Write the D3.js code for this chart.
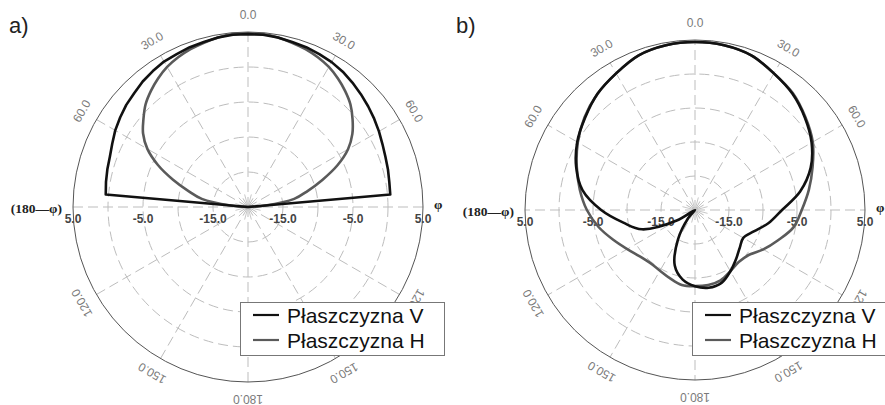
<!DOCTYPE html>
<html>
<head>
<meta charset="utf-8">
<script src="https://cdn.jsdelivr.net/npm/d3@7"></script>
<style>
  html, body { margin: 0; padding: 0; background: #fff; }
  svg { display: block; }
</style>
</head>
<body>
<svg id="chart" width="885" height="405"></svg>
<script>
// ---------------- DATA ----------------
// Panel a) angles (deg, clockwise from 0 at top), values in dB
const anglesA = [-90,-85,-80,-75,-70,-65,-60,-55,-50,-45,-40,-35,-30,-25,-20,-15,-10,-5,0,5,10,15,20,25,30,35,40,45,50,55,60,65,70,75,80,85,90];
const vA = [-20,0.4,0.6,0.8,1.0,1.4,1.9,2.3,2.7,3.0,3.4,3.7,4.0,4.1,4.3,4.4,4.6,4.7,4.7,4.7,4.6,4.4,4.3,4.1,3.9,3.6,3.2,2.8,2.4,2.0,1.6,1.2,0.9,0.7,0.5,0.4,-20];
const hA = [-20,-17.5,-13.3,-11.2,-8.6,-5.8,-3.4,-1.7,-0.5,0.7,1.6,2.4,3.1,3.6,4.0,4.3,4.6,4.8,4.8,4.8,4.6,4.3,4.0,3.6,3.1,2.4,1.6,0.7,-0.5,-1.8,-3.5,-5.9,-8.7,-11.2,-13.3,-17.5,-20];

// Panel b) angles (deg), closed pattern
const anglesB = [-180,-170,-160,-150,-140,-130,-120,-110,-100,-90,-80,-70,-60,-50,-40,-30,-20,-10,0,10,20,30,40,50,60,70,80,90,100,110,120,130,140,150,160,170];
const vB = [-8.8,-9.6,-11.3,-15.0,-18.5,-21,-16.9,-11.7,-9.3,-6.2,-3.2,-1.4,0.0,1.1,2.3,3.2,4.2,4.6,4.7,4.6,4.2,3.2,2.3,1.1,-0.2,-1.9,-4.3,-7.2,-9.0,-10.8,-11.8,-11.4,-10.6,-9.6,-8.6,-8.4];
const hB = [-8.8,-8.8,-9.3,-9.7,-9.8,-9.4,-8.5,-7.2,-5.6,-4.1,-2.8,-1.5,-0.1,1.2,2.3,3.2,4.2,4.6,4.7,4.6,4.2,3.2,2.4,1.2,0.0,-1.6,-3.0,-4.3,-5.3,-7.0,-8.4,-9.7,-10.0,-9.6,-9.0,-8.8];

// Axis ticks
const radialTicks = [-15, -10, -5, 0, 5];
const radialLabels = [5, -5, -15];
const angleLabels = [0, 30, 60, -30, -60, 120, 150, 180, -120, -150];
const seriesNames = ["Płaszczyzna V", "Płaszczyzna H"];
const panelNames = ["a)", "b)"];

// ---------------- DRAW ----------------
const svg = d3.select("#chart");
const rad = d => d * Math.PI / 180;

const panels = [
  { cx: 248, cy: 207, R: 175, name: panelNames[0], angles: anglesA, v: vA, h: hA, closed: false,
    legend: { x: 240, y: 302, w: 204, h: 53 } },
  { cx: 695, cy: 210, R: 170, name: panelNames[1], angles: anglesB, v: vB, h: hB, closed: true,
    legend: { x: 692, y: 302, w: 200, h: 53 } }
];

const colV = "#111", colH = "#5a5a5a";

panels.forEach((p, pi) => {
  const g = svg.append("g").attr("transform", `translate(${p.cx},${p.cy})`);
  const r = d3.scaleLinear().domain([-20, 5]).range([0, p.R]);
  const rc = v => Math.max(0, r(v));

  // rings
  g.selectAll("circle.ring").data(radialTicks.slice(0, -1)).join("circle")
    .attr("r", d => r(d)).attr("fill", "none")
    .attr("stroke", "#bdbdbd").attr("stroke-width", 1).attr("stroke-dasharray", "10,5");
  // spokes every 30
  const spokes = d3.range(0, 360, 30);
  g.selectAll("line.spoke").data(spokes).join("line")
    .attr("x1", 0).attr("y1", 0)
    .attr("x2", d => p.R * Math.sin(rad(d))).attr("y2", d => -p.R * Math.cos(rad(d)))
    .attr("stroke", "#bdbdbd").attr("stroke-width", 1).attr("stroke-dasharray", "10,5");
  // small center star
  g.selectAll("line.star").data(d3.range(15, 360, 30)).join("line")
    .attr("x1", 0).attr("y1", 0)
    .attr("x2", d => 13 * Math.sin(rad(d))).attr("y2", d => -13 * Math.cos(rad(d)))
    .attr("stroke", "#c8c8c8").attr("stroke-width", 1);
  // outer ring
  g.append("circle").attr("r", r(5)).attr("fill", "none")
    .attr("stroke", "#555").attr("stroke-width", 1);

  // radial labels (both sides)
  [-1, 1].forEach(side => {
    g.selectAll(null).data(radialLabels).join("text")
      .attr("x", d => side * r(d)).attr("y", 16)
      .attr("text-anchor", "middle")
      .attr("font-family", "Liberation Sans, Arial, sans-serif")
      .attr("font-weight", "bold").attr("font-size", 12).attr("fill", "#444")
      .text(d => d.toFixed(1));
  });

  // angle labels
  const LR = p.R + 17;
  g.selectAll("text.ang").data(angleLabels).join("text")
    .attr("transform", d => `translate(${LR * Math.sin(rad(d))},${-LR * Math.cos(rad(d))}) rotate(${d})`)
    .attr("text-anchor", "middle").attr("dy", "0.35em")
    .attr("font-family", "Liberation Sans, Arial, sans-serif")
    .attr("font-size", 12).attr("fill", "#7a7a7a")
    .text(d => Math.abs(d).toFixed(1));

  // phi labels
  g.append("text").attr("x", -p.R - 11).attr("y", 1).attr("dy", "0.35em")
    .attr("text-anchor", "end")
    .attr("font-family", "Liberation Serif, Times New Roman, serif")
    .attr("font-weight", "bold").attr("font-size", 13.5).attr("fill", "#222")
    .text("(180\u2014\u03c6)");
  g.append("text").attr("x", p.R + 11).attr("y", -3).attr("dy", "0.35em")
    .attr("text-anchor", "start")
    .attr("font-family", "Liberation Serif, Times New Roman, serif")
    .attr("font-weight", "bold").attr("font-size", 13.5).attr("fill", "#222")
    .text("\u03c6");

  // curves
  const mk = (vals, curve) => d3.lineRadial()
    .angle((d, i) => rad(p.angles[i]))
    .radius(d => rc(d))
    .curve(curve)(vals);

  const curveH = p.closed ? d3.curveCatmullRomClosed.alpha(0.5) : d3.curveCatmullRom.alpha(0.5);
  const curveV = p.closed ? d3.curveCatmullRomClosed.alpha(0.5) : d3.curveLinear;

  g.append("path").attr("d", mk(p.h, curveH))
    .attr("fill", "none").attr("stroke", colH).attr("stroke-width", 2.6)
    .attr("stroke-linejoin", "round");
  g.append("path").attr("d", mk(p.v, curveV))
    .attr("fill", "none").attr("stroke", colV).attr("stroke-width", 2.6)
    .attr("stroke-linejoin", "round");

  // panel label
  svg.append("text").attr("x", pi === 0 ? 9 : 456).attr("y", 33)
    .attr("font-family", "Liberation Sans, Arial, sans-serif")
    .attr("font-size", 22).attr("fill", "#222").text(p.name);

  // legend
  const L = p.legend;
  const lg = svg.append("g").attr("transform", `translate(${L.x},${L.y})`);
  lg.append("rect").attr("x", 0.5).attr("y", 0.5).attr("width", L.w).attr("height", L.h)
    .attr("fill", "#fff").attr("stroke", "#777").attr("stroke-width", 1);
  [colV, colH].forEach((c, i) => {
    const yy = 13 + i * 25;
    lg.append("line").attr("x1", 13).attr("x2", 39).attr("y1", yy).attr("y2", yy)
      .attr("stroke", c).attr("stroke-width", 2.2);
    lg.append("text").attr("x", 47).attr("y", yy + 8)
      .attr("font-family", "Liberation Sans, Arial, sans-serif")
      .attr("font-size", 21).attr("fill", "#111").text(seriesNames[i]);
  });
});
</script>
</body>
</html>
